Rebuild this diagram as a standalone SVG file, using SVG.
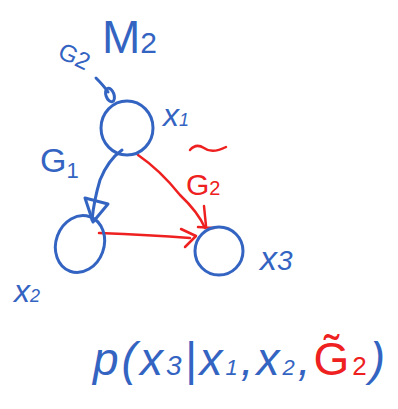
<svg xmlns="http://www.w3.org/2000/svg" width="398" height="409" viewBox="0 0 398 409">
<style>
.b{fill:none;stroke:#3464C2;stroke-width:3;stroke-linecap:round;stroke-linejoin:round}
.r{fill:none;stroke:#EE2020;stroke-width:2.5;stroke-linecap:round;stroke-linejoin:round}
.tb{fill:#3464C2;font-family:"Liberation Sans",sans-serif;font-style:italic}
.tr{fill:#EE2020;font-family:"Liberation Sans",sans-serif}
.up{font-style:normal}
</style>
<rect width="398" height="409" fill="#fff"/>
<g id="title"><text class="tb up" x="102" y="53" font-size="46">M<tspan font-size="30">2</tspan></text></g>
<g id="g2label"><text class="tb up" x="54" y="68" font-size="24" transform="rotate(25 80 68)">G2</text></g>
<g id="connectors">
<path class="b" d="M96 78 Q104 86 108 92"/>
<ellipse class="b" cx="110" cy="95" rx="4" ry="7" transform="rotate(-20 110 95)"/>
<path class="b" d="M122 150 Q108 160 100 180 Q94 200 92 220"/>
<path class="b" d="M85 198 L108 204 L93 222 Z"/>
<path class="r" d="M138 155 Q160 170 180 195 Q198 212 205 228"/>
<path class="r" d="M204 206 L206 226 M198 227 L214 228"/>
<path class="r" d="M99 233 Q150 235 190 238"/>
<path class="r" d="M181 229 L196 236 L185 247"/>
<path class="r" d="M190 150 Q196 143 204 148 Q212 154 226 147"/>
</g>
<g id="x1"><ellipse class="b" cx="127" cy="128" rx="26" ry="27"/><text class="tb" x="163" y="126" font-size="32">x<tspan font-size="18">1</tspan></text></g>
<g id="x2"><ellipse class="b" cx="80" cy="244" rx="24" ry="29" transform="rotate(20 80 244)"/><text class="tb" x="14" y="302" font-size="32">x<tspan font-size="18">2</tspan></text></g>
<g id="x3"><ellipse class="b" cx="219" cy="251" rx="24" ry="24"/><text class="tb" x="260" y="270" font-size="34">x<tspan font-size="28">3</tspan></text></g>
<g id="g1label"><text class="tb up" x="40" y="172" font-size="34">G<tspan font-size="22" dy="6">1</tspan></text></g>
<g id="g2tilde"><text class="tr" x="186" y="195" font-size="30">G<tspan font-size="20">2</tspan></text></g>
<g id="formula"><text class="tb" x="93" y="375" font-size="46" letter-spacing="3">p(x<tspan font-size="28">3</tspan>|x<tspan font-size="22">1</tspan>,x<tspan font-size="22">2</tspan>,<tspan class="tr up">G̃<tspan font-size="26">2</tspan></tspan>)</text></g>
</svg>
